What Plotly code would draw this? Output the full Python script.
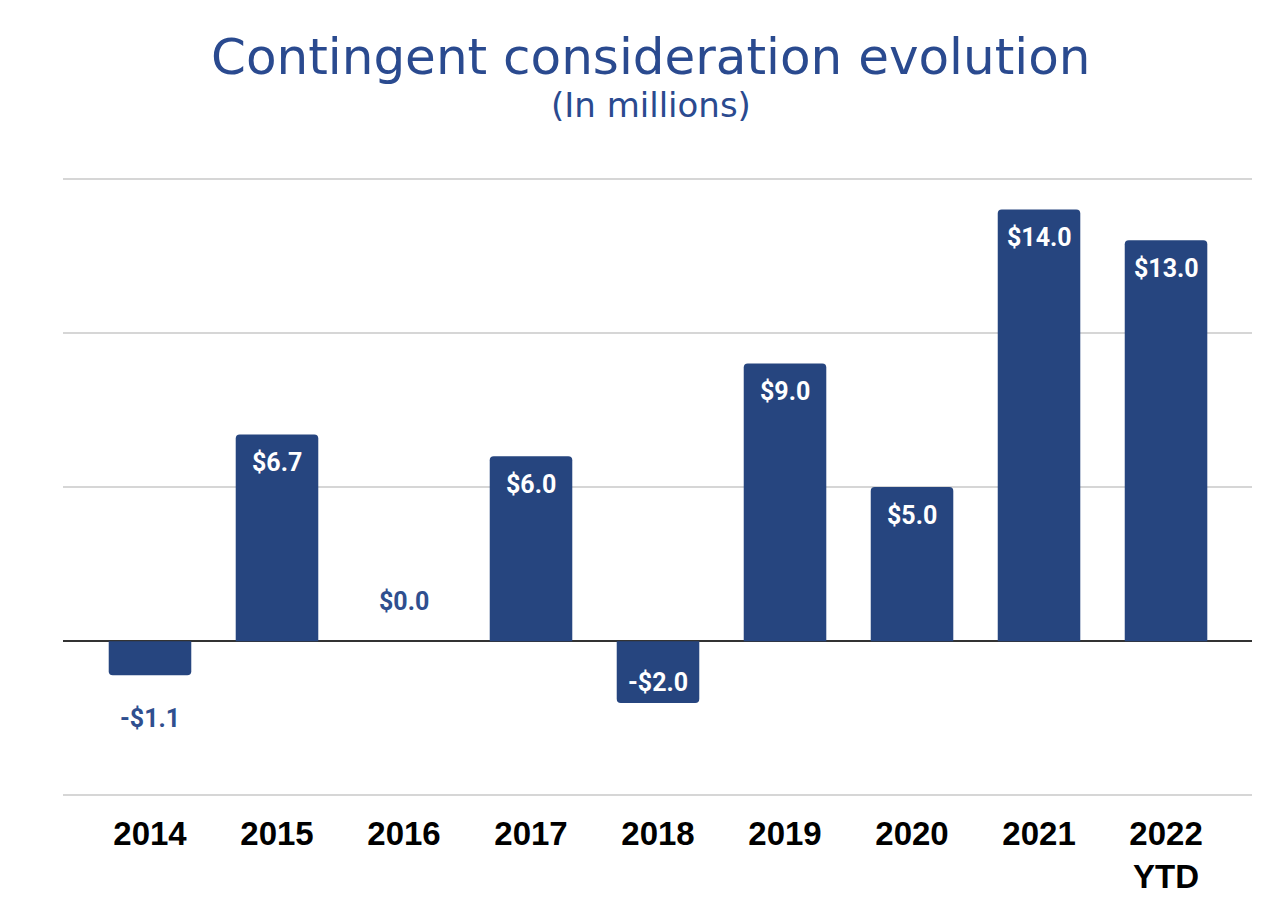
import plotly.graph_objects as go

categories = ["2014", "2015", "2016", "2017", "2018", "2019", "2020", "2021", "2022<br>YTD"]
values = [-1.1, 6.7, 0.0, 6.0, -2.0, 9.0, 5.0, 14.0, 13.0]
labels = ["-$1.1", "$6.7", "$0.0", "$6.0", "-$2.0", "$9.0", "$5.0", "$14.0", "$13.0"]

BAR = "#26457f"
LBL_BLUE = "#2f4f8f"

fig = go.Figure()
fig.add_trace(go.Bar(
    x=categories, y=values, marker=dict(color=BAR, cornerradius=4, line=dict(width=0)),
    width=0.65, hoverinfo="skip",
))

anns = []
for i, (v, t) in enumerate(zip(values, labels)):
    if v > 0:
        ys, col = -28, "white"
    elif v == 0:
        ys, col = 40, LBL_BLUE
    elif v > -1.5:
        ys, col = -43, LBL_BLUE
    else:
        ys, col = 20, "white"
    anns.append(dict(x=i, y=v, xref="x", yref="y", text=t, yanchor="middle", yshift=ys,
                     showarrow=False,
                     font=dict(family="Roboto", size=25, color=col, weight="bold")))

anns.append(dict(xref="paper", yref="paper", x=0.4945, y=1, yshift=120, yanchor="middle",
                 text="Contingent consideration evolution", showarrow=False,
                 font=dict(family="DejaVu Sans", size=50, color="#2a4a8f")))
anns.append(dict(xref="paper", yref="paper", x=0.4945, y=1, yshift=72, yanchor="middle",
                 text="(In millions)", showarrow=False,
                 font=dict(family="DejaVu Sans", size=34, color="#2a4a8f")))

fig.update_layout(
    width=1280, height=917,
    margin=dict(l=55, r=36, t=169, b=128),
    paper_bgcolor="white", plot_bgcolor="white",
    showlegend=False,
    annotations=anns,
    xaxis=dict(type="category", range=[-0.685, 8.677], showgrid=False, zeroline=False,
               showline=False, ticks="", ticklabelstandoff=14,
               tickfont=dict(family="Liberation Sans", size=33, color="black", weight="bold")),
    yaxis=dict(range=[-5.05, 15.05], tickvals=[-5, 0, 5, 10, 15], showticklabels=False,
               showgrid=True, gridcolor="#d6d6d6", gridwidth=2,
               zeroline=True, zerolinecolor="#333333", zerolinewidth=2, showline=False),
)

fig.write_html("out.html")
